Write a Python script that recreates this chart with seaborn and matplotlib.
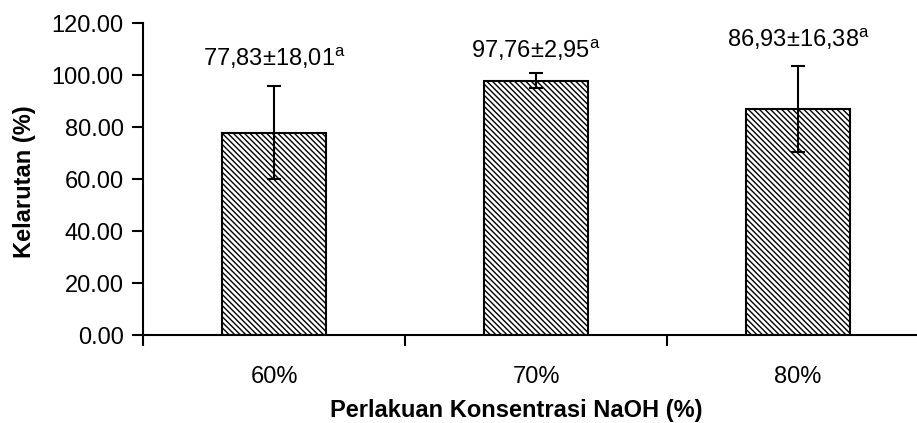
"""
Bar chart of solubility (Kelarutan) for each NaOH concentration treatment,
with standard deviation error bars and notation labels above each bar.
"""

import matplotlib
matplotlib.use('Agg')
import matplotlib.pyplot as plt
import seaborn as sns
import pandas as pd

# Data
konsentrasi = ['60%', '70%', '80%']
kelarutan = [77.83, 97.76, 86.93]
sd = [18.01, 2.95, 16.38]
notasi = ['a', 'a', 'a']
label_y = [106.5, 109.6, 114.0]

sns.set_style('white')
plt.rcParams['font.family'] = ['Liberation Sans Narrow', 'Liberation Sans',
                               'DejaVu Sans']
plt.rcParams['mathtext.fontset'] = 'custom'
plt.rcParams['mathtext.rm'] = 'Liberation Sans'
plt.rcParams['hatch.linewidth'] = 1.0
plt.rcParams['hatch.color'] = 'black'
plt.rcParams['text.color'] = 'black'
plt.rcParams['xtick.color'] = 'black'
plt.rcParams['ytick.color'] = 'black'

df = pd.DataFrame({'Konsentrasi': konsentrasi, 'Kelarutan': kelarutan})

fig = plt.figure(figsize=(9.17, 4.23), dpi=100)
ax = fig.add_axes([143 / 917, 88 / 423, 786 / 917, 312 / 423])

sns.barplot(data=df, x='Konsentrasi', y='Kelarutan', ax=ax, color='white',
            edgecolor='black', linewidth=1.5, width=0.4, errorbar=None,
            saturation=1)
for bar in ax.patches:
    bar.set_hatch('\\\\\\\\\\\\')

ax.errorbar(range(len(konsentrasi)), kelarutan, yerr=sd, fmt='none',
            ecolor='black', elinewidth=1.5, capsize=5, capthick=1.5)

# Labels above the bars
for i in range(len(konsentrasi)):
    txt = '{:.2f}'.format(kelarutan[i]).replace('.', ',') + '\u00b1' + \
        '{:.2f}'.format(sd[i]).replace('.', ',') + \
        r'$^{\mathrm{' + notasi[i] + '}}$'
    ax.text(i, label_y[i], txt, ha='center', va='center', fontsize=17,
            color='black')

ax.set_ylim(0, 120)
ax.set_xlim(-0.5, 2.5)
ax.set_yticks(range(0, 121, 20))
ax.set_yticklabels(['{:.2f}'.format(v) for v in range(0, 121, 20)])
ax.set_xticks([-0.5, 0.5, 1.5, 2.5])
ax.set_xticklabels([])
ax.set_xticks(range(len(konsentrasi)), minor=True)
ax.set_xticklabels(konsentrasi, minor=True)
ax.tick_params(axis='x', which='minor', bottom=False, length=0, pad=22,
               labelsize=17, labelcolor='black')
ax.tick_params(axis='x', which='major', bottom=True, direction='out',
               length=8, width=1.5, color='black')
ax.tick_params(axis='y', left=True, direction='out', length=8, width=1.5,
               color='black', labelsize=17, pad=6, labelcolor='black')

for side in ['top', 'right']:
    ax.spines[side].set_visible(False)
for side in ['left', 'bottom']:
    ax.spines[side].set_linewidth(1.5)
    ax.spines[side].set_color('black')

ax.set_xlabel('')
ax.set_ylabel('')
fig.text(25 / 917, 1 - 182 / 423, 'Kelarutan (%)', rotation=90,
         ha='center', va='center', fontsize=17, fontweight='bold',
         color='black')
fig.text(516 / 917, 1 - 410 / 423, 'Perlakuan Konsentrasi NaOH (%)',
         ha='center', va='center', fontsize=17, fontweight='bold',
         color='black')

plt.savefig('out.png', dpi=100)
